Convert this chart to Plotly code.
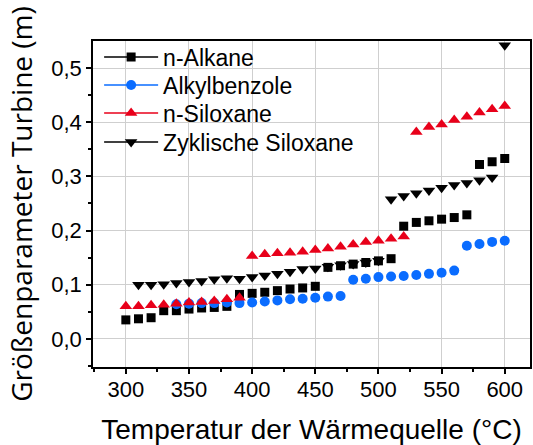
import plotly.graph_objects as go

temps = list(range(300, 610, 10))

alkane_x = temps
alkane_y = [0.035, 0.037, 0.039, 0.052, 0.052, 0.055, 0.057, 0.058, 0.060, 0.082,
            0.084, 0.086, 0.089, 0.092, 0.094, 0.097, 0.132, 0.135, 0.138, 0.141,
            0.144, 0.148, 0.208, 0.215, 0.218, 0.221, 0.224, 0.229, 0.322, 0.327, 0.333]

benz_x = list(range(340, 610, 10))
benz_y = [0.064, 0.065, 0.066, 0.066, 0.067, 0.066, 0.067, 0.069, 0.071, 0.073,
          0.074, 0.076, 0.078, 0.079, 0.109, 0.111, 0.114, 0.115, 0.116, 0.118,
          0.120, 0.122, 0.126, 0.172, 0.175, 0.179, 0.181]

silox_x = temps
silox_y = [0.060, 0.060, 0.062, 0.063, 0.065, 0.067, 0.068, 0.070, 0.073, 0.076,
           0.153, 0.156, 0.158, 0.159, 0.161, 0.164, 0.167, 0.170, 0.174, 0.179,
           0.181, 0.185, 0.189, 0.382, 0.391, 0.396, 0.404, 0.410, 0.418, 0.424, 0.430]

zyk_x = list(range(310, 610, 10))
zyk_y = [0.100, 0.100, 0.101, 0.103, 0.105, 0.107, 0.110, 0.112, 0.111, 0.114,
         0.117, 0.120, 0.124, 0.129, 0.130, 0.133, 0.136, 0.138, 0.141, 0.144,
         0.258, 0.264, 0.269, 0.274, 0.279, 0.284, 0.288, 0.293, 0.298, 0.542]

series = [
    ("n-Alkane", alkane_x, alkane_y, "black", "square", 9),
    ("Alkylbenzole", benz_x, benz_y, "#0a6cff", "circle", 10),
    ("n-Siloxane", silox_x, silox_y, "#e8001a", "triangle-up", 11),
    ("Zyklische Siloxane", zyk_x, zyk_y, "black", "triangle-down", 11),
]

legend_ids = ["legend", "legend2", "legend3", "legend4"]
legend_rows = [0.951, 0.865, 0.779, 0.690]


def gapped(xs, ys):
    gx, gy = [], []
    for a, b in zip(xs, ys):
        gx += [a, None]
        gy += [b, None]
    return gx, gy


fig = go.Figure()
for (name, xs, ys, col, sym, sz), lid in zip(series, legend_ids):
    gx, gy = gapped(xs, ys)
    fig.add_trace(go.Scatter(
        x=gx, y=gy, name=name, mode="lines+markers", connectgaps=False,
        line=dict(color=col, width=1.5), legend=lid,
        marker=dict(color=col, symbol=sym, size=sz, line=dict(width=0)),
    ))

legend_common = dict(x=0.014, xanchor="left", yanchor="middle",
                     bgcolor="rgba(0,0,0,0)", itemwidth=54,
                     font=dict(size=23), itemsizing="trace")
legends = {lid: dict(legend_common, y=yy) for lid, yy in zip(legend_ids, legend_rows)}

font = "Arial, Liberation Sans, sans-serif"
fig.update_layout(
    width=533, height=445,
    margin=dict(l=93, r=3, t=41, b=78),
    paper_bgcolor="white", plot_bgcolor="white",
    separators=",.",
    font=dict(family=font, size=22, color="black"),
    showlegend=True,
    **legends,
    xaxis=dict(
        range=[274, 620], tickvals=[300, 350, 400, 450, 500, 550, 600],
        showgrid=True, gridcolor="#cfcfcf", gridwidth=1,
        showline=True, linecolor="black", linewidth=1.5, mirror=True,
        ticks="outside", ticklen=5, tickwidth=1.5, tickcolor="black",
        minor=dict(tickvals=[275, 325, 375, 425, 475, 525, 575], ticks="outside",
                   ticklen=3, tickwidth=1.5, tickcolor="black", showgrid=False),
        tickfont=dict(size=22), automargin=False, ticklabelstandoff=-3,
        title=dict(text="Temperatur der Wärmequelle (°C)", font=dict(size=28), standoff=18),
        zeroline=False,
    ),
    yaxis=dict(
        range=[-0.052, 0.55], tickvals=[0.0, 0.1, 0.2, 0.3, 0.4, 0.5], tickformat=".1f",
        showgrid=True, gridcolor="#cfcfcf", gridwidth=1,
        showline=True, linecolor="black", linewidth=1.5, mirror=True,
        ticks="outside", ticklen=5, tickwidth=1.5, tickcolor="black",
        minor=dict(tickvals=[-0.05, 0.05, 0.15, 0.25, 0.35, 0.45], ticks="outside",
                   ticklen=3, tickwidth=1.5, tickcolor="black", showgrid=False),
        tickfont=dict(size=22), automargin=False,
        title=dict(text="Größenparameter Turbine (m)",
                   font=dict(size=28, family="Open Sans, Noto Sans, sans-serif"), standoff=10),
        zeroline=False,
    ),
)

fig.write_html("out.html", config={"displayModeBar": False},
               post_script="document.body.style.margin='0';")
